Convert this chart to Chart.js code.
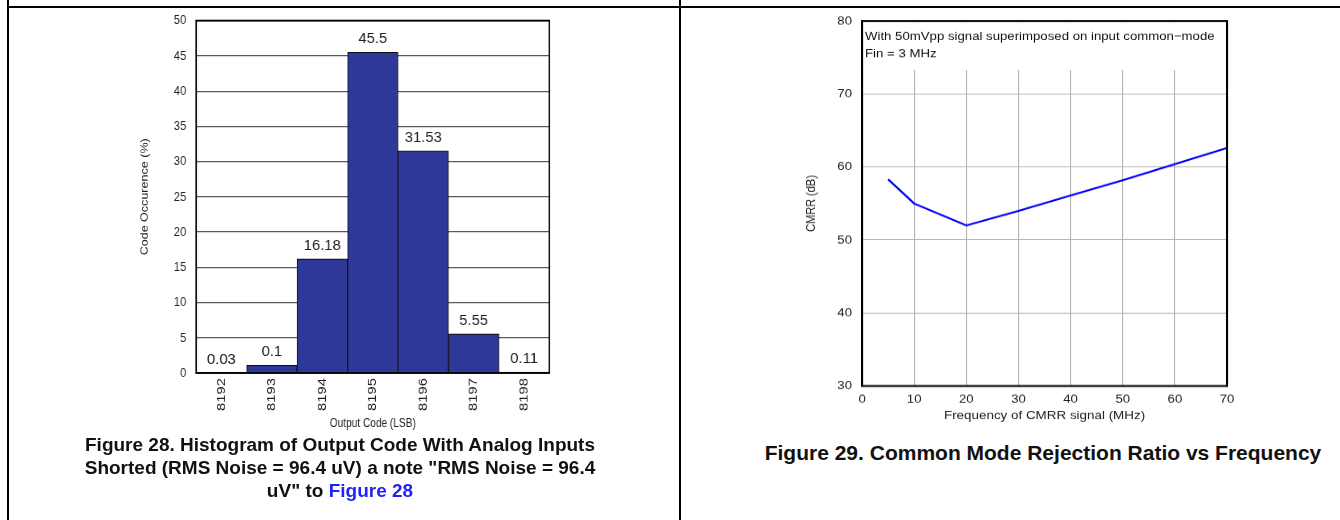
<!DOCTYPE html>
<html>
<head>
<meta charset="utf-8">
<script src="https://cdn.jsdelivr.net/npm/chart.js@4/dist/chart.umd.min.js"></script>
<style>
  body { margin: 0; background: #fff; width: 1340px; height: 520px; position: relative; overflow: hidden; font-family: "Liberation Sans", Arial, sans-serif; }
  .line { position: absolute; background: #000; }
  canvas { position: absolute; top: 0; }
  .caption { position: absolute; text-align: center; font-weight: bold; font-size: 19px; line-height: 23px; color: #111; white-space: nowrap; }
  .caption a { color: #1f1fff; text-decoration: none; }
</style>
</head>
<body>
<div class="line" style="left:7px;top:0;width:2px;height:520px"></div>
<div class="line" style="left:7px;top:6px;width:1333px;height:2px"></div>
<div class="line" style="left:679px;top:0;width:2px;height:520px"></div>

<canvas id="histChart" style="left:0"></canvas>
<canvas id="cmrrChart" style="left:680px"></canvas>

<div class="caption" style="left:40px;top:433px;width:600px">Figure 28. Histogram of Output Code With Analog Inputs<br>Shorted (RMS Noise = 96.4 uV) a note "RMS Noise = 96.4<br>uV" to <a>Figure 28</a></div>
<div class="caption" style="left:700px;top:441px;width:686px;font-size:21px">Figure 29. Common Mode Rejection Ratio vs Frequency</div>

<script>
const codes = ["8192", "8193", "8194", "8195", "8196", "8197", "8198"];
const occurrence = [0.03, 1.1, 16.18, 45.5, 31.53, 5.55, 0.11];
const occurrenceLabels = ["0.03", "0.1", "16.18", "45.5", "31.53", "5.55", "0.11"];

const freqMHz = [5, 10, 20, 30, 40, 50, 60, 70];
const cmrrDb = [58.3, 55, 52, 54, 56.1, 58.2, 60.4, 62.6];
const noteLines = ["With 50mVpp signal superimposed on input common\u2212mode", "Fin = 3 MHz"];
const noteBottom = 73.3;

const fontFamily = '"Liberation Sans", Arial, sans-serif';
const tickColor = "#222";

// the source figures are a little stretched (left one taller, right one wider),
// so each chart is drawn at a logical size and the canvas is scaled by css
function stretch(chart, w, h) {
  chart.canvas.style.width = w + "px";
  chart.canvas.style.height = h + "px";
}

// box around the plot area
const plotFrame = {
  id: "plotFrame",
  afterDraw(chart, args, opts) {
    const { ctx, chartArea } = chart;
    ctx.save();
    ctx.strokeStyle = "#000";
    ctx.lineWidth = opts.width || 2;
    ctx.strokeRect(chartArea.left, chartArea.top, chartArea.right - chartArea.left, chartArea.bottom - chartArea.top);
    ctx.restore();
  },
};

// value text above each bar (widened back so it is not stretched)
const barValues = {
  id: "barValues",
  afterDatasetsDraw(chart) {
    const { ctx } = chart;
    const meta = chart.getDatasetMeta(0);
    ctx.save();
    ctx.fillStyle = "#222";
    ctx.font = "13px " + fontFamily;
    ctx.textAlign = "center";
    ctx.textBaseline = "middle";
    meta.data.forEach((bar, i) => {
      ctx.save();
      ctx.translate(bar.x, bar.y - 11.5);
      ctx.scale(1.24, 1);
      ctx.fillText(occurrenceLabels[i], 0, 0);
      ctx.restore();
    });
    ctx.restore();
  },
};

// white box with the test conditions, covering the upper grid
const noteBox = {
  id: "noteBox",
  beforeDatasetsDraw(chart) {
    const { ctx, chartArea, scales } = chart;
    const yb = scales.y.getPixelForValue(noteBottom);
    ctx.save();
    ctx.fillStyle = "#fff";
    ctx.fillRect(chartArea.left + 1, chartArea.top + 1, chartArea.right - chartArea.left - 2, yb - chartArea.top - 1);
    ctx.fillStyle = "#111";
    ctx.font = "12px " + fontFamily;
    ctx.textBaseline = "middle";
    noteLines.forEach((t, i) => {
      ctx.fillText(t, chartArea.left + 2.7, chartArea.top + 16 + i * 17);
    });
    ctx.restore();
  },
};

const histCanvas = document.getElementById("histChart");
histCanvas.width = 740;
histCanvas.height = 386;
const histChart = new Chart(histCanvas, {
  type: "bar",
  data: {
    labels: codes,
    datasets: [
      {
        data: occurrence,
        backgroundColor: "#2e3898",
        borderColor: "#111",
        borderWidth: 1,
        categoryPercentage: 1,
        barPercentage: 1,
      },
    ],
  },
  options: {
    responsive: false,
    animation: false,
    devicePixelRatio: 1.14,
    layout: { padding: { left: 140, right: 142.6, top: 16.7, bottom: 5 } },
    plugins: { legend: { display: false }, tooltip: { enabled: false }, plotFrame: { width: 1.6 } },
    scales: {
      x: {
        grid: { display: false, drawTicks: false },
        border: { display: false },
        ticks: { color: tickColor, font: { family: fontFamily, size: 13 }, minRotation: 90, maxRotation: 90, padding: 4.4 },
        title: { display: true, text: "Output Code (LSB)", color: tickColor, font: { family: fontFamily, size: 11 }, padding: { top: 0, bottom: 2.5 } },
        afterFit(scale) { scale.height = 53.8; },
      },
      y: {
        min: 0,
        max: 50,
        grid: { color: "#5a5a5a", drawTicks: false },
        border: { display: false },
        ticks: { stepSize: 5, color: tickColor, font: { family: fontFamily, size: 12 }, padding: 10.9 },
        title: { display: true, text: "Code Occurence (%)", color: tickColor, font: { family: fontFamily, size: 11 }, padding: { top: 11.2, bottom: 0 } },
        afterFit(scale) { scale.width = 73.3; },
      },
    },
  },
  plugins: [barValues, plotFrame],
});
stretch(histChart, 680, 440);

const cmrrCanvas = document.getElementById("cmrrChart");
cmrrCanvas.width = 600;
cmrrCanvas.height = 440;
const cmrrChart = new Chart(cmrrCanvas, {
  type: "line",
  data: {
    datasets: [
      {
        data: freqMHz.map((f, i) => ({ x: f, y: cmrrDb[i] })),
        borderColor: "#0000ff",
        borderWidth: 1.9,
        pointRadius: 0,
        tension: 0,
      },
    ],
  },
  options: {
    responsive: false,
    animation: false,
    devicePixelRatio: 1.1,
    layout: { padding: { left: 100, right: 102.7, top: 21, bottom: 14 } },
    plugins: { legend: { display: false }, tooltip: { enabled: false }, plotFrame: { width: 1.9 } },
    scales: {
      x: {
        type: "linear",
        min: 0,
        max: 70,
        grid: { color: "#b4b4b4", drawTicks: false },
        border: { display: false },
        ticks: { stepSize: 10, color: tickColor, font: { family: fontFamily, size: 12 }, padding: 6, maxRotation: 0 },
        title: { display: true, text: "Frequency of CMRR signal (MHz)", color: tickColor, font: { family: fontFamily, size: 12.2 }, padding: { top: 0, bottom: 3 } },
        afterFit(scale) { scale.height = 40; },
      },
      y: {
        min: 30,
        max: 80,
        grid: { color: "#b4b4b4", drawTicks: false },
        border: { display: false },
        ticks: { stepSize: 10, color: tickColor, font: { family: fontFamily, size: 12 }, padding: 9.1 },
        title: { display: true, text: "CMRR (dB)", color: tickColor, font: { family: fontFamily, size: 11 }, padding: { top: 13.4, bottom: 0 } },
        afterFit(scale) { scale.width = 65.5; },
      },
    },
  },
  plugins: [noteBox, plotFrame],
});
stretch(cmrrChart, 660, 440);
</script>
</body>
</html>
